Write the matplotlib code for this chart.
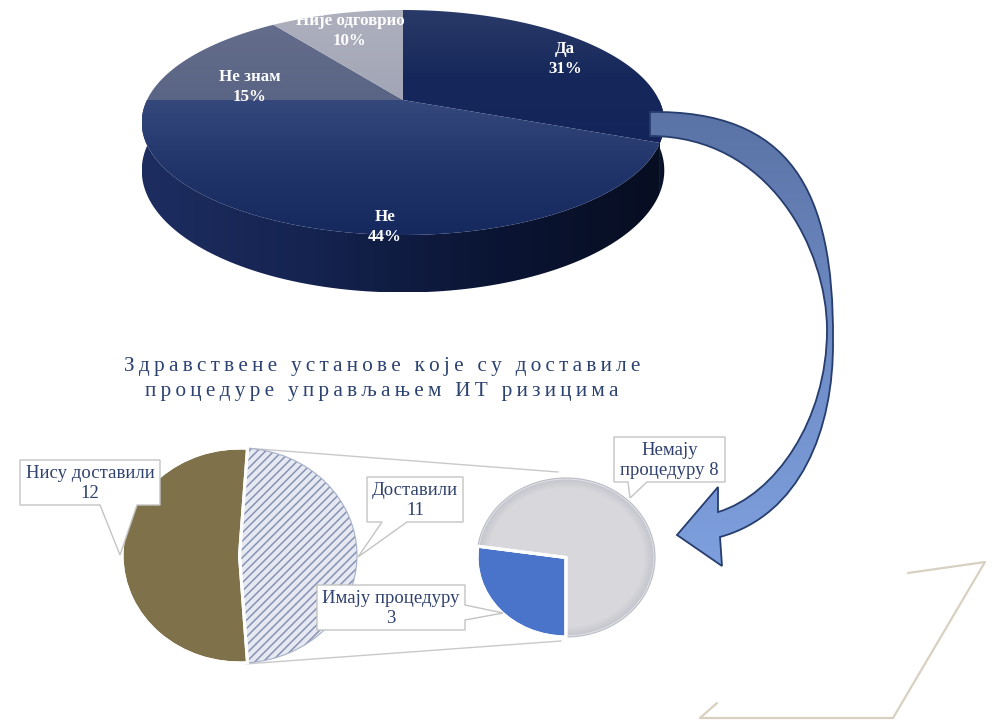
import numpy as np
import matplotlib
matplotlib.use("Agg")
import matplotlib.pyplot as plt
from matplotlib.patches import Polygon, PathPatch, Wedge
from matplotlib.path import Path
from matplotlib.colors import LinearSegmentedColormap

# IT risk management question, share of answers (%)
answers = ["Да", "Не", "Не знам", "Није одговрио"]
answer_pct = [31, 44, 15, 10]

# Institutions that submitted procedures
submitted_labels = ["Доставили", "Нису доставили"]
submitted_counts = [11, 12]

# Split of the submitted ones
procedure_labels = ["Имају процедуру", "Немају процедуру"]
procedure_counts = [3, 8]

title_lines = ["Здравствене установе које су доставиле",
               "процедуре управљањем ИТ ризицима"]

SERIF = "Liberation Serif"
NAVY_TEXT = "#2f416f"
W, H = 992, 720

fig = plt.figure(figsize=(W / 100, H / 100), dpi=100)
ax = fig.add_axes([0, 0, 1, 1])
ax.axis("off")


def gradient_poly(axis, verts, colors, direction="v", zorder=2, edge=None, lw=0.0):
    poly = Polygon(verts, closed=True, fc="none", ec="none", zorder=zorder)
    axis.add_patch(poly)
    xs, ys = np.asarray(verts).T
    cmap = LinearSegmentedColormap.from_list("g", colors)
    t = np.linspace(0, 1, 256)
    cols = cmap(t)[:, :3]
    img = cols[:, None, :] if direction == "v" else cols[None, :, :]
    im = axis.imshow(img, extent=(xs.min(), xs.max(), ys.max(), ys.min()),
                     origin="upper", aspect="auto", zorder=zorder,
                     interpolation="bilinear")
    im.set_clip_path(poly)
    if edge is not None:
        axis.add_patch(Polygon(verts, closed=True, fc="none", ec=edge, lw=lw,
                               zorder=zorder + 0.1))


# ---------- 3D pie (perspective projection of a tilted disc) ----------
cx, cy = 403, 100
ra, rb, persp, depth = 256, 108, 0.2, 46


def proj(theta, r=1.0, d=0.0):
    t = np.radians(theta)
    u = r * np.sin(t)
    v = -r * np.cos(t)
    den = 1 - persp * v
    return cx + ra * u / den, cy + (rb * v + depth * d) / den


bounds = np.concatenate([[0], np.cumsum(answer_pct)]) * 360 / sum(answer_pct)

# side wall (front half only)
side_cols = {0: ["#0b1532", "#070e22"], 1: ["#1d2d60", "#14234f", "#0b1534", "#070e22"]}
for i in range(len(answer_pct)):
    s, e = max(bounds[i], 90), min(bounds[i + 1], 270)
    if s >= e:
        continue
    th = np.linspace(s, e, 120)
    tx, ty = proj(th)
    bx, by = proj(th[::-1], d=1)
    verts = np.column_stack([np.concatenate([tx, bx]), np.concatenate([ty, by])])
    gradient_poly(ax, verts, side_cols.get(i, ["#0b1532", "#070e22"]), direction="h", zorder=2)

face_cols = [["#2a3a68", "#16285b", "#13245a"],
             ["#35487c", "#22356b", "#16295f"],
             ["#646d8b", "#5a6484"],
             ["#aeb0be", "#a2a5b5"]]
for i in range(len(answer_pct)):
    th = np.linspace(bounds[i], bounds[i + 1], 150)
    ex, ey = proj(th)
    verts = np.column_stack([np.concatenate([[cx], ex]), np.concatenate([[cy], ey])])
    gradient_poly(ax, verts, face_cols[i], direction="v", zorder=3)

label_xy = [(565, 59), (385, 227), (250, 87), (350, 31)]
for name, pct, (lx, ly) in zip(answers, answer_pct, label_xy):
    ax.text(lx, ly, f"{name}\n{pct}%", ha="center", va="center", color="white",
            fontsize=12.2, fontweight="bold", family=SERIF, linespacing=1.32, zorder=5)

# ---------- curved arrow ----------
M, C, L, Z = Path.MOVETO, Path.CURVE4, Path.LINETO, Path.CLOSEPOLY
arrow_verts = [(650, 112),
               (790, 110), (834, 190), (833, 340),
               (834, 430), (800, 515), (720, 537),
               (722, 566), (677, 535), (718, 487), (718, 512),
               (775, 495), (827, 420), (827, 330),
               (827, 250), (770, 136), (650, 136),
               (650, 112)]
arrow_codes = [M, C, C, C, C, C, C, L, L, L, L, C, C, C, C, C, C, Z]
arrow_path = Path(arrow_verts, arrow_codes)
arrow_clip = PathPatch(arrow_path, fc="none", ec="none", zorder=6)
ax.add_patch(arrow_clip)
tg = np.linspace(0, 1, 256)
acmap = LinearSegmentedColormap.from_list("a", ["#5a72a4", "#6f8cc6", "#7ea0de"])
aim = ax.imshow(acmap(tg)[:, None, :3], extent=(640, 840, 570, 105), origin="upper",
                aspect="auto", zorder=6, interpolation="bilinear")
aim.set_clip_path(arrow_clip)
ax.add_patch(PathPatch(arrow_path, fc="none", ec="#263d6e", lw=1.3, zorder=6.1))

# ---------- title ----------
spaced = ["\u2009".join(line) for line in title_lines]
ax.text(382, 379, "\n".join(spaced), ha="center", va="center", color="#2c4271",
        fontsize=15.3, family=SERIF, linespacing=1.45, zorder=5)

# ---------- decorative frame, bottom right ----------
ax.plot([908, 985, 893, 700, 717], [573, 562, 718, 718, 703], color="#d8d1c2",
        lw=1.6, solid_capstyle="round", zorder=1)

# ---------- connector lines of the pie-of-pie ----------
ax.plot([245, 558], [448, 472], color="#c9c9c9", lw=1.0, zorder=1)
ax.plot([245, 561], [664, 641], color="#c9c9c9", lw=1.0, zorder=1)

ax.set_xlim(0, W)
ax.set_ylim(H, 0)

# ---------- primary small pie ----------
plt.rcParams["hatch.linewidth"] = 1.1
axl = fig.add_axes([122 / W, 1 - 663 / H, 235 / W, 215 / H])
start_l = 180 * submitted_counts[0] / sum(submitted_counts)
wl, _ = axl.pie(submitted_counts, startangle=start_l, counterclock=False,
                colors=["#e6e9f1", "#7f724b"],
                wedgeprops=dict(edgecolor="white", linewidth=2.2))
wl[0].set_hatch("////")
wl[0].set_edgecolor("#8693b3")
wl[0].set_linewidth(0)
axl.add_patch(Wedge((0, 0), 1, wl[0].theta1, wl[0].theta2, fc="none",
                    ec="#a7b1c9", lw=0.8))
axl.add_patch(Wedge((0, 0), 1, wl[1].theta1, wl[1].theta2, fc="none",
                    ec="white", lw=2.2))
for p in axl.patches:
    p.set_clip_on(False)
axl.set_aspect("auto")
axl.set_xlim(-1, 1)
axl.set_ylim(-1, 1)
axl.axis("off")

# ---------- secondary small pie ----------
axr = fig.add_axes([477 / W, 1 - 637 / H, 178 / W, 159 / H])
wr, _ = axr.pie(procedure_counts, startangle=-90, counterclock=False,
                colors=["#4a74c9", "#d8d8dc"],
                wedgeprops=dict(edgecolor="white", linewidth=2.2))
g = wr[1]
n_ring = 10
for i in range(n_ring):
    r = 1 - i * 0.012
    axr.add_patch(Wedge((0, 0), r, g.theta1 + 0.3, g.theta2 - 0.3, width=0.012,
                        fc="#8d93a4", ec="none", alpha=0.28 * (1 - i / n_ring)))
axr.add_patch(Wedge((0, 0), 1, g.theta1, g.theta2, fc="none", ec="#b9bcc6", lw=0.8))
axr.add_patch(Wedge((0, 0), 1, wr[0].theta1, wr[0].theta2, fc="none", ec="white", lw=2.2))
for p in axr.patches:
    p.set_clip_on(False)
axr.set_aspect("auto")
axr.set_xlim(-1, 1)
axr.set_ylim(-1, 1)
axr.axis("off")

# ---------- callouts (overlay) ----------
axo = fig.add_axes([0, 0, 1, 1])
axo.set_xlim(0, W)
axo.set_ylim(H, 0)
axo.axis("off")
axo.patch.set_alpha(0)


def callout(box, side, base, tip, text):
    x0, y0, x1, y1 = box
    if side == "bottom":
        b1, b2 = base
        verts = [(x0, y0), (x1, y0), (x1, y1), (b2, y1), tip, (b1, y1), (x0, y1)]
    else:
        b1, b2 = base
        verts = [(x0, y0), (x1, y0), (x1, b1), tip, (x1, b2), (x1, y1), (x0, y1)]
    axo.add_patch(Polygon(verts, closed=True, fc="white", ec="#c4c4c4", lw=1.0))
    axo.text((x0 + x1) / 2, (y0 + y1) / 2 + 1, text, ha="center", va="center",
             color=NAVY_TEXT, fontsize=13.5, family=SERIF, linespacing=1.17)


callout((20, 460, 160, 505), "bottom", (100, 137), (120, 555),
        f"{submitted_labels[1]}\n{submitted_counts[1]}")
callout((367, 477, 463, 522), "bottom", (382, 407), (358, 557),
        f"{submitted_labels[0]}\n{submitted_counts[0]}")
callout((317, 585, 465, 630), "right", (605, 620), (503, 613),
        f"{procedure_labels[0]}\n{procedure_counts[0]}")
first, rest = procedure_labels[1].split(" ", 1)
callout((614, 437, 725, 482), "bottom", (628, 647), (630, 498),
        f"{first}\n{rest} {procedure_counts[1]}")

fig.savefig("out.png", dpi=100)
